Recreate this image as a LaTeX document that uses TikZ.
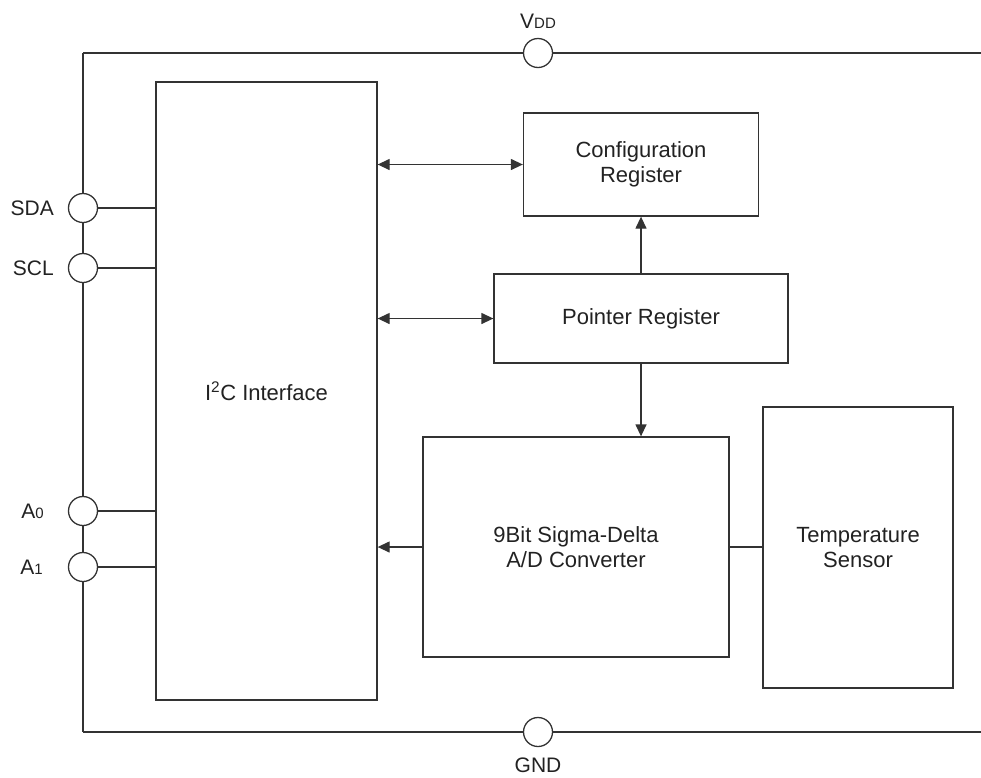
\documentclass[tikz,border=0pt]{standalone}
\usepackage{fontspec}
\setmainfont{Liberation Sans}
\usetikzlibrary{arrows.meta}
\definecolor{ln}{HTML}{333333}
\definecolor{tx}{HTML}{222222}
\tikzset{
  blk/.style={draw=ln, line width=1.3pt, rectangle, inner sep=0pt, align=center, text=tx, font=\fontsize{22}{25}\selectfont},
  pin/.style={draw=ln, line width=1.3pt, circle, fill=white, minimum size=29pt, inner sep=0pt},
  wire/.style={draw=ln, line width=1.3pt},
  arr/.style={wire, -{Triangle[length=12pt,width=11pt]}},
  barr/.style={wire, {Triangle[length=12pt,width=11pt]}-{Triangle[length=12pt,width=11pt]}},
  lbl/.style={text=tx, inner sep=0pt, font=\fontsize{21}{25}\selectfont},
}
\newcommand{\smallsub}[1]{{\fontsize{15}{15}\selectfont #1}}
\begin{document}
\begin{tikzpicture}[x=1pt,y=-1pt]
\useasboundingbox (0,0) rectangle (981,777);
% corner coordinates
\coordinate (tl) at (83,53);
\coordinate (tr) at (981,53);
\coordinate (bl) at (83,732);
\coordinate (br) at (981,732);
% pins
\node[pin] (vdd) at (538,53) {};
\node[pin] (gnd) at (538,732) {};
\node[pin] (sda) at (83,208) {};
\node[pin] (scl) at (83,268) {};
\node[pin] (a0) at (83,511) {};
\node[pin] (a1) at (83,567) {};
% blocks
\node[blk, minimum width=221pt, minimum height=618pt] (i2c) at (266.5,391) {I\textsuperscript{2}C Interface};
\node[blk, minimum width=235pt, minimum height=103pt] (cfg) at (641,164.5) {Configuration\\Register};
\node[blk, minimum width=294pt, minimum height=89pt] (ptr) at (641,318.5) {Pointer Register};
\node[blk, minimum width=306pt, minimum height=220pt] (adc) at (576,547) {9Bit Sigma-Delta\\A/D Converter};
\node[blk, minimum width=190pt, minimum height=281pt] (tmp) at (858,547.5) {Temperature\\Sensor};
% labels
\node[lbl] (vddl) at (538,21) {V\smallsub{DD}};
\node[lbl] (gndl) at (538,765) {GND};
\node[lbl, anchor=east] (sdal) at (54,208) {SDA};
\node[lbl, anchor=east] (scll) at (54,268) {SCL};
\node[lbl, anchor=east] (a0l) at (44,511) {A\smallsub{0}};
\node[lbl, anchor=east] (a1l) at (43,567) {A\smallsub{1}};
% rails
\draw[wire] (tl) -- (vdd) -- (tr);
\draw[wire] (bl) -- (gnd) -- (br);
\draw[wire] (tl) -- (sda) -- (scl) -- (a0) -- (a1) -- (bl);
% pin connections
\draw[wire] (sda) -- (sda -| i2c.west);
\draw[wire] (scl) -- (scl -| i2c.west);
\draw[wire] (a0) -- (a0 -| i2c.west);
\draw[wire] (a1) -- (a1 -| i2c.west);
% internal connections
\draw[barr] (i2c.east |- cfg.west) -- (cfg.west);
\draw[barr] (i2c.east |- ptr.west) -- (ptr.west);
\draw[arr] (ptr.north) -- (ptr.north |- cfg.south);
\draw[arr] (ptr.south) -- (ptr.south |- adc.north);
\draw[arr] (adc.west) -- (adc.west -| i2c.east);
\draw[wire] (adc.east) -- (adc.east -| tmp.west);
\end{tikzpicture}
\end{document}
